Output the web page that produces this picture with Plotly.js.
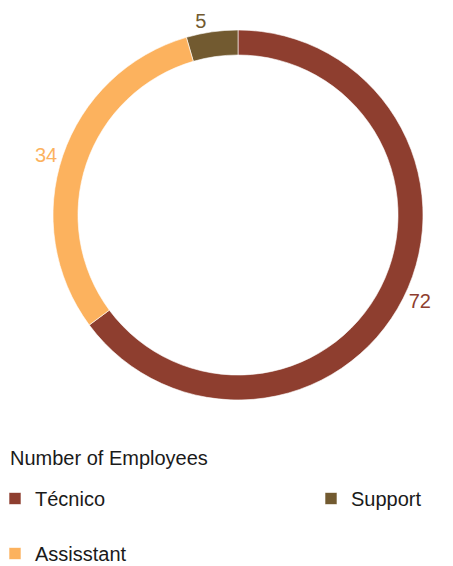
<!DOCTYPE html>
<html><head><meta charset="utf-8">
<script src="https://cdn.plot.ly/plotly-3.0.1.min.js"></script>
<style>
html,body{margin:0;padding:0;overflow:hidden;background:#fff}
#wrap{width:453px;height:566px;overflow:hidden;position:relative}
#chart{width:700px;height:566px;position:absolute;left:-5px;top:0}
</style>
</head><body>
<div id="wrap"><div id="chart"></div></div>
<script>
const categories = ["Técnico", "Support", "Assisstant"];
const employees = [72, 5, 34];
const sliceColors = ["#8E3E2F", "#725A30", "#FCB25E"];
const legendTitle = "Number of Employees";

const W = 700, H = 566, SHIFT = 5;
const fontFamily = "'Liberation Sans', Arial, sans-serif";
const cx = 238 + SHIFT, cy = 215, half = 185;

const trace = {
  type: "pie",
  labels: categories.map(c => c + "<br> "),
  values: employees,
  sort: false,
  direction: "counterclockwise",
  rotation: 0,
  hole: 0.865,
  marker: { colors: sliceColors, line: { color: "#ffffff", width: 0.6 } },
  textinfo: "value",
  textposition: "outside",
  outsidetextfont: { family: fontFamily, size: 20, color: sliceColors },
  hoverinfo: "skip",
  domain: { x: [(cx - half) / W, (cx + half) / W], y: [1 - (cy + half) / H, 1 - (cy - half) / H] },
  showlegend: true
};

const layout = {
  width: W, height: H,
  margin: { l: 0, r: 0, t: 0, b: 0, autoexpand: false },
  paper_bgcolor: "#ffffff",
  font: { family: fontFamily, size: 20, color: "#1a1a1a" },
  showlegend: true,
  legend: {
    orientation: "h",
    x: 0, xanchor: "left",
    y: 1 - 479 / H, yanchor: "top",
    entrywidth: 271, entrywidthmode: "pixels",
    valign: "top",
    font: { family: fontFamily, size: 20, color: "#1a1a1a" },
    bgcolor: "rgba(0,0,0,0)"
  },
  annotations: [{
    text: legendTitle,
    xref: "paper", yref: "paper",
    x: (8 + SHIFT) / W, xanchor: "left",
    y: 1 - 458 / H, yanchor: "middle",
    showarrow: false,
    font: { family: fontFamily, size: 20, color: "#1a1a1a" }
  }]
};

Plotly.newPlot("chart", [trace], layout, { staticPlot: true, displayModeBar: false });
</script>
</body></html>
